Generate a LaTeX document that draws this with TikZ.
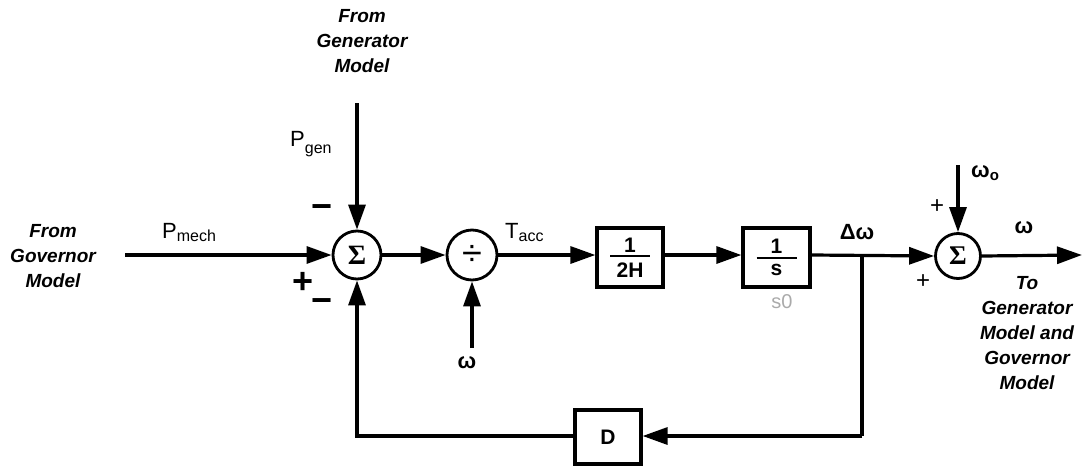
\documentclass[tikz,border=0pt]{standalone}
\usepackage{fontspec}
\setmainfont{Liberation Sans}
\newfontfamily\serifsig{Liberation Serif}
\usetikzlibrary{arrows.meta}
\definecolor{sgray}{RGB}{170,170,170}
\newcommand{\fsz}[1]{\fontsize{#1}{#1}\selectfont}
\newcommand{\frc}[2]{\vbox{\hbox to 40pt{\hss #1\hss}\kern3pt\hrule height 2.2pt\kern5pt\hbox to 40pt{\hss #2\hss}}}
\begin{document}
\begin{tikzpicture}[x=1pt,y=-1pt,
  wire/.style={line width=3.2pt},
  arr/.style={wire,-{Triangle[length=25pt,width=17pt]}},
  sumnode/.style={circle,draw,line width=2.8pt,minimum size=48pt,inner sep=0pt},
  blk/.style={draw,line width=3.2pt,minimum width=66pt,minimum height=59pt,inner sep=0pt},
  modeltxt/.style={align=center,font=\fontsize{19}{25}\selectfont\bfseries\itshape,inner sep=0pt},
  sig/.style={font=\fsz{22},inner sep=0pt},
  gk/.style={font=\fsz{22}\bfseries,inner sep=0pt},
  bigsign/.style={font=\fsz{36}\bfseries,inner sep=0pt},
  smallsign/.style={font=\fsz{24},inner sep=0pt},
]
\useasboundingbox (0,0) rectangle (1082,466);
\fill[white] (0,0) rectangle (1082,466);

% blocks
\node[sumnode] (sum1) at (357,255) {\serifsig\bfseries\fsz{28}Σ};
\node[sumnode,minimum size=50pt] (div) at (472,255) {\fsz{36}÷};
\node[blk] (b1) at (630,257.5) {\fsz{21}\bfseries\frc{1}{2H}};
\node[blk,minimum width=67pt] (b2) at (776.5,257.5) {\fsz{21}\bfseries\frc{1}{s}};
\node[sumnode,minimum size=45pt] (sum2) at (958,256) {\serifsig\bfseries\fsz{27}Σ};
\node[blk,minimum height=54pt] (dblk) at (608,437) {\fsz{21}\bfseries D};

% free ends
\coordinate (govin) at (125,255);
\coordinate (gentop) at (357,103);
\coordinate (wbot) at (472,348);
\coordinate (br) at (862,255);
\coordinate (brlow) at (862,436);
\coordinate (fbl) at (357,436);
\coordinate (w0top) at (958,165);
\coordinate (out) at (1082,255);

% connectors
\draw[arr] (govin) -- (sum1.west);
\draw[arr] (gentop) -- (sum1.north);
\draw[arr] (sum1.east) -- (div.west);
\draw[arr] (wbot) -- (div.south);
\draw[arr] (div.east) -- (div.east -| b1.west);
\draw[arr] (b1.east |- div.east) -- (b2.west |- div.east);
\draw[arr] (b2.east |- div.east) -- (sum2.west);
\draw[wire] (br) -- (brlow);
\draw[arr] (brlow) -- (dblk.east |- brlow);
\draw[arr] (dblk.west |- fbl) -- (fbl) -- (sum1.south);
\draw[arr] (w0top) -- (sum2.north);
\draw[arr] (sum2.east) -- (out);

% labels
\node[modeltxt] (govtxt) at (53,256) {From\\Governor\\Model};
\node[modeltxt] (gentxt) at (362,41) {From\\Generator\\Model};
\node[modeltxt] (totxt) at (1027,333) {To\\Generator\\Model and\\Governor\\Model};
\node[sig,anchor=base west] (pmech) at (162,238) {P\raisebox{-3pt}{\fsz{16}mech}};
\node[sig,anchor=base west] (pgen) at (290,146) {P\raisebox{-7pt}{\fsz{16}gen}};
\node[sig,anchor=base west] (tacc) at (505,238) {T\raisebox{-3pt}{\fsz{16}acc}};
\node[bigsign] (m1) at (322,212) {−};
\node[bigsign] (p1) at (303,283) {+};
\node[bigsign] (m2) at (322,306) {−};
\node[gk] (wdiv) at (467,363) {ω};
\node[font=\fsz{20},text=sgray,inner sep=0pt] (s0) at (782,302) {s0};
\node[gk] (dw) at (857,232) {Δω};
\node[gk,anchor=base west] (w0) at (971,177) {ω\raisebox{-3pt}{\fsz{15}o}};
\node[smallsign] (p2) at (937,207) {+};
\node[smallsign] (p3) at (923,282) {+};
\node[gk] (wout) at (1024,228) {ω};
\end{tikzpicture}
\end{document}
